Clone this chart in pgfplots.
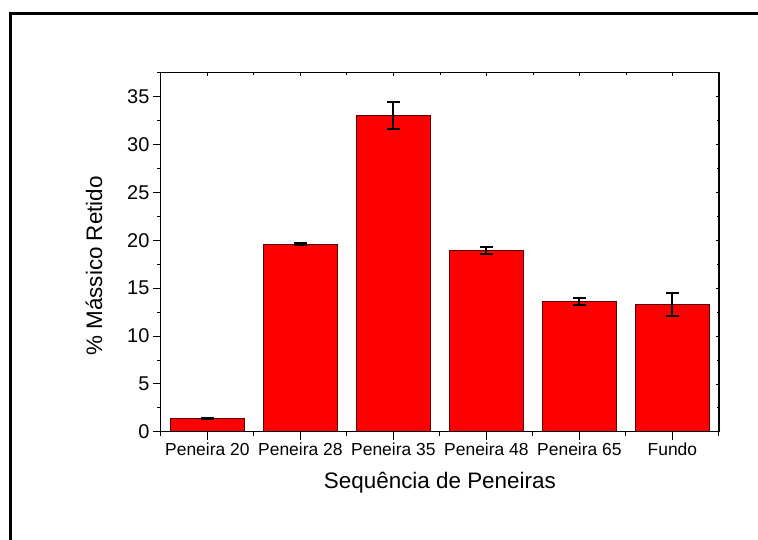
\documentclass[border=0pt]{standalone}
\usepackage{pgfplots}
\pgfplotsset{compat=1.18}
\usepackage{fontspec}
\setmainfont{Liberation Sans}
\definecolor{baredge}{RGB}{90,0,0}
\begin{document}
\begin{tikzpicture}[x=1bp,y=1bp]
\useasboundingbox (0,0) rectangle (758,540);
\draw[line width=3bp] (10.8,0) -- (10.8,526.7) -- (758,526.7);
\begin{axis}[
  at={(173,113)}, anchor=south west,
  scale only axis, width=558bp, height=359bp,
  xmin=-0.5, xmax=5.5, ymin=0, ymax=37.5,
  xtick={0,1,2,3,4,5},
  xticklabels={Peneira 20,Peneira 28,Peneira 35,Peneira 48,Peneira 65,Fundo},
  minor xtick={-0.5,0.5,1.5,2.5,3.5,4.5,5.5},
  ytick={0,5,10,15,20,25,30,35},
  minor ytick={2.5,7.5,12.5,17.5,22.5,27.5,32.5,37.5},
  xtick pos=bottom, ytick pos=left,
  tick align=outside,
  major tick length=8bp, minor tick length=4bp,
  tick style={black, line width=0.9bp},
  axis line style={line width=1.2bp},
  x tick label style={font=\fontsize{17.5}{17.5}\selectfont},
  y tick label style={font=\fontsize{20}{20}\selectfont},
  /pgf/number format/assume math mode=true,
  xlabel={Sequência de Peneiras},
  ylabel={\% Mássico Retido},
  label style={font=\fontsize{22.5}{22.5}\selectfont},
  xlabel style={at={(rel axis cs:0.5,-0.1588)}, anchor=base},
  ylabel style={at={(rel axis cs:-0.12,0.462)}, anchor=center, rotate=0},
]
\addplot[ybar, bar width=0.8, bar shift=0pt, fill=red, draw=baredge, line width=0.8bp,
  error bars/.cd, y dir=both, y explicit,
  error bar style={black, line width=2bp},
  error mark options={rotate=90, mark size=6.5bp, line width=2bp, black}]
  table[x=x, y=y, y error=e] {
x y e
0 1.4 0.05
1 19.6 0.1
2 33.0 1.4
3 18.95 0.4
4 13.6 0.4
5 13.3 1.2
};
\end{axis}
\begin{axis}[
  at={(173,113)}, anchor=south west,
  scale only axis, width=558bp, height=359bp,
  xmin=-0.5, xmax=5.5, ymin=0, ymax=37.5,
  xtick={0,1,2,3,4,5}, xticklabels={},
  minor xtick={-0.5,0.5,1.5,2.5,3.5,4.5,5.5},
  ytick={0,5,10,15,20,25,30,35}, yticklabels={},
  minor ytick={2.5,7.5,12.5,17.5,22.5,27.5,32.5,37.5},
  xtick pos=top, ytick pos=right,
  tick align=inside,
  major tick length=3bp, minor tick length=2bp,
  tick style={black, line width=0.8bp},
  axis line style={line width=1.2bp},
]
\end{axis}
\end{tikzpicture}
\end{document}
